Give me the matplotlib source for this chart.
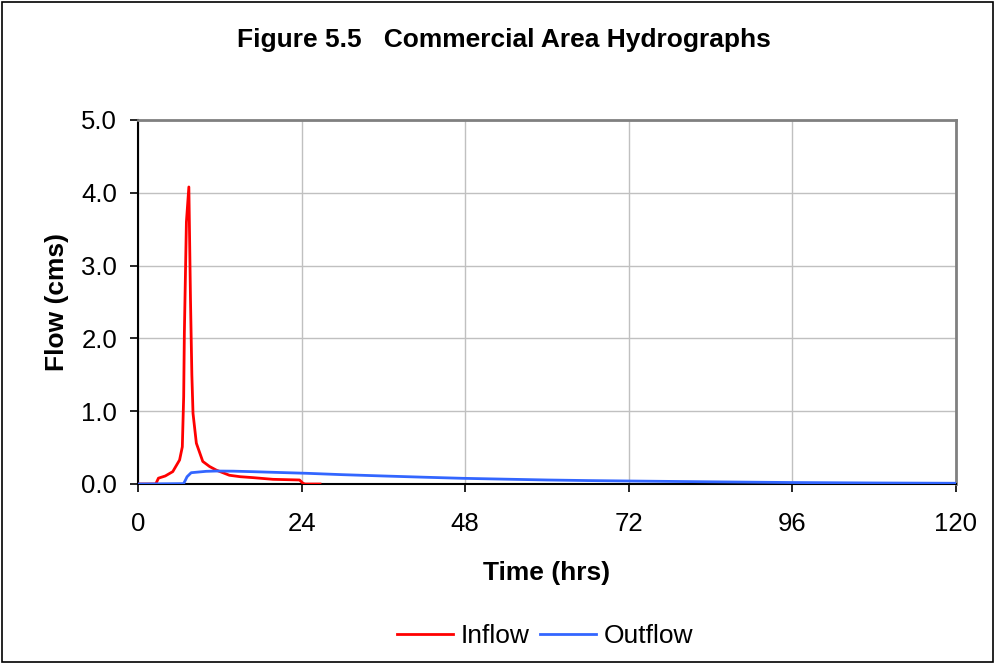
import matplotlib.pyplot as plt
from matplotlib.patches import Rectangle

plt.rcParams['font.family'] = ['Liberation Sans', 'DejaVu Sans']

# Inflow hydrograph (hrs, cms)
inflow_t = [0, 2.6, 3.0, 4.0, 5.1, 6.1, 6.5, 6.7, 6.8, 7.1, 7.46, 7.7, 7.9, 8.07,
            8.56, 9.5, 10.5, 11.5, 13.4, 15.0, 16.9, 19.8, 23.7, 24.2, 24.5, 26.7]
inflow_q = [0, 0, 0.08, 0.11, 0.17, 0.33, 0.51, 1.2, 2.07, 3.6, 4.08, 2.53, 1.5, 0.97,
            0.56, 0.31, 0.24, 0.19, 0.12, 0.10, 0.087, 0.064, 0.055, 0.01, 0, 0]

# Outflow hydrograph (hrs, cms)
outflow_t = [0, 6.7, 7.2, 7.8, 10.0, 11.5, 14.0, 16.9, 20.0, 24.7, 30, 36, 42, 47.6,
             54, 60, 66, 72, 84, 96, 108, 120]
outflow_q = [0, 0.005, 0.1, 0.155, 0.174, 0.178, 0.176, 0.169, 0.16, 0.147, 0.128, 0.11,
             0.093, 0.078, 0.066, 0.055, 0.047, 0.041, 0.03, 0.02, 0.014, 0.01]

x_ticks = [0, 24, 48, 72, 96, 120]
y_ticks = [0.0, 1.0, 2.0, 3.0, 4.0, 5.0]

dpi = 100
fig = plt.figure(figsize=(995 / dpi, 664 / dpi), dpi=dpi)
ax = fig.add_axes([0.1387, 0.2711, 0.8221, 0.5482])

ax.plot(inflow_t, inflow_q, color='#ff0000', lw=2, label='Inflow', zorder=3)
ax.plot(outflow_t, outflow_q, color='#3366ff', lw=2, label='Outflow', zorder=4)

ax.set_xlim(0, 120)
ax.set_ylim(0, 5)
ax.set_xticks(x_ticks)
ax.set_yticks(y_ticks)
ax.set_yticklabels(['%.1f' % v for v in y_ticks])
ax.tick_params(labelsize=18.5, direction='out', length=6, width=1.2, color='black')
ax.tick_params(axis='x', pad=14)
ax.tick_params(axis='y', pad=9)
ax.grid(True, color='#c0c0c0', lw=1, zorder=1)
ax.set_axisbelow(True)

for side in ['left', 'bottom']:
    ax.spines[side].set_color('black')
    ax.spines[side].set_linewidth(1.5)
for side in ['top', 'right']:
    ax.spines[side].set_color('#808080')
    ax.spines[side].set_linewidth(2)

ax.set_xlabel('Time (hrs)', fontsize=19, fontweight='bold', labelpad=18)
ax.set_ylabel('Flow (cms)', fontsize=19, fontweight='bold', labelpad=9)

fig.text(0.506, 0.94, 'Figure 5.5   Commercial Area Hydrographs', ha='center', va='center',
         fontsize=19, fontweight='bold')

fig.legend(loc='center', bbox_to_anchor=(0.548, 0.042), ncol=2, frameon=False,
           fontsize=19, handlelength=2.1, columnspacing=0.4, handletextpad=0.3)

fig.patches.append(Rectangle((0.002, 0.003), 0.996, 0.994, transform=fig.transFigure,
                             fill=False, edgecolor='black', lw=1.2))

fig.savefig('out.png', dpi=dpi)
